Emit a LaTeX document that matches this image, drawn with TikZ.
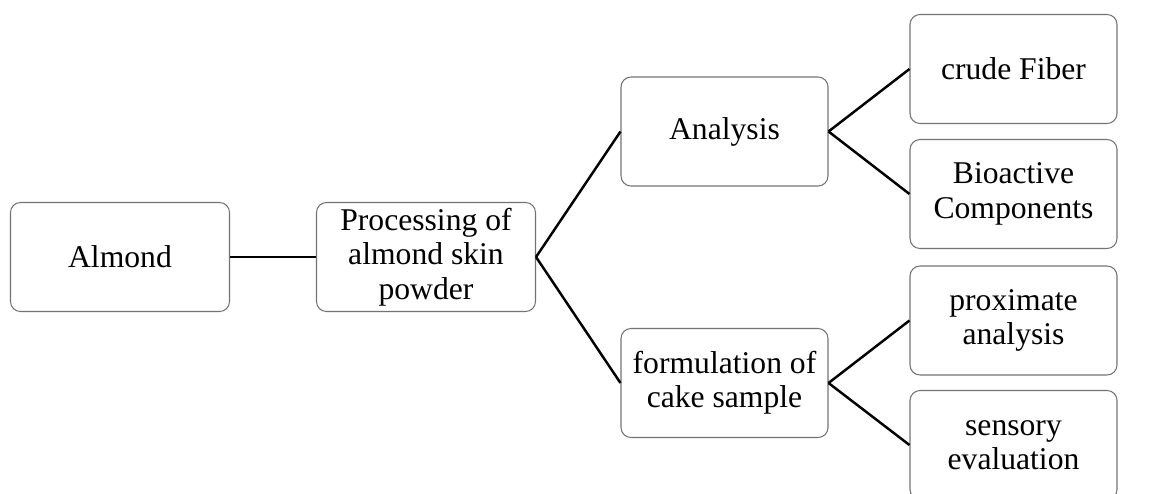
\documentclass[tikz,border=0pt]{standalone}
\usepackage{fontspec}
\setmainfont{Liberation Serif}
\usepackage{tikz}
\usetikzlibrary{positioning}

\begin{document}
\begin{tikzpicture}[
    box/.style={draw=black!55, line width=0.6pt, rounded corners=0.2cm, align=center,
                minimum height=2.18cm, inner sep=0pt, font=\fontsize{18}{19.5}\selectfont},
    wide/.style={box, minimum width=4.38cm},
    narrow/.style={box, minimum width=4.14cm},
    link/.style={line width=1.4pt}
  ]
    \useasboundingbox (0,0) rectangle (23.04,9.86);

    \node [wide]   (almond)   at (2.40,4.72)  {Almond};
    \node [wide]   (process)  at (8.52,4.72)  {Processing of\\almond skin\\powder};

    \node [narrow] (analysis) at (14.49,7.23) {Analysis};
    \node [narrow] (formul)   at (14.49,2.20) {formulation of\\cake sample};

    \node [narrow] (fiber)    at (20.27,8.48) {crude Fiber};
    \node [narrow] (bioact)   at (20.27,5.98) {Bioactive\\Components};
    \node [narrow] (proxim)   at (20.27,3.45) {proximate\\analysis};
    \node [narrow] (sensory)  at (20.27,0.96) {sensory\\evaluation};

    \draw [link] (almond.east) -- (process.west);
    \draw [link] (process.east) -- (analysis.west);
    \draw [link] (process.east) -- (formul.west);

    \draw [link] (analysis.east) -- (fiber.west);
    \draw [link] (analysis.east) -- (bioact.west);
    \draw [link] (formul.east) -- (proxim.west);
    \draw [link] (formul.east) -- (sensory.west);
  \end{tikzpicture}
\end{document}
